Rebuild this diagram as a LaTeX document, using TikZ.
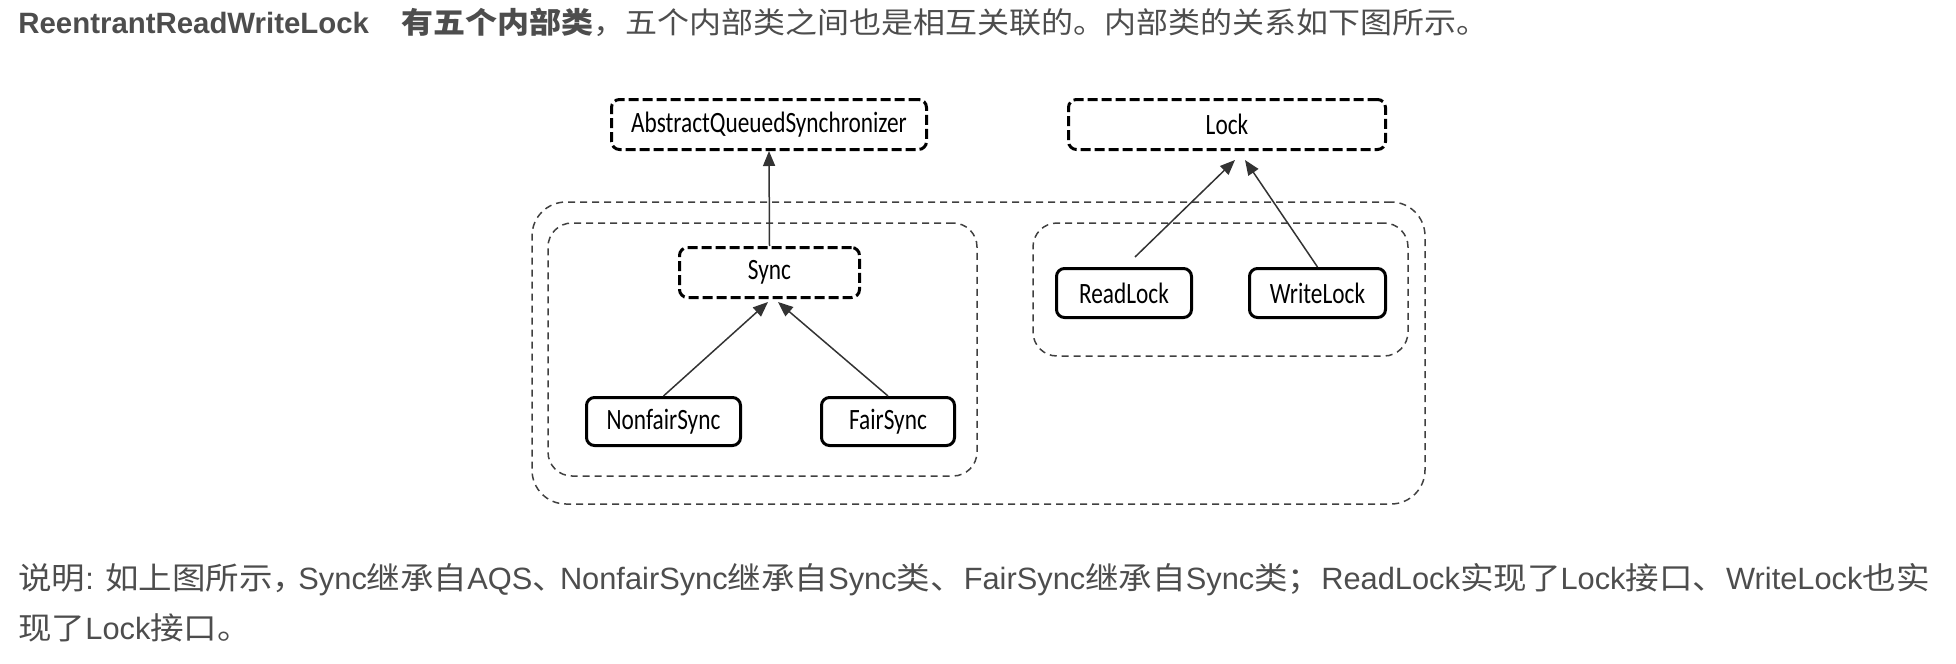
\documentclass[tikz,border=0pt]{standalone}
\usepackage{fontspec}
\setmainfont{Liberation Sans}
\newfontfamily\cjk[FakeStretch=1.088]{Noto Sans CJK SC}
\newfontfamily\boxfont[FakeStretch=0.79]{Carlito}
\usetikzlibrary{arrows.meta}
\definecolor{txt}{HTML}{4D4D4D}
\begin{document}
\begin{tikzpicture}[x=0.5pt,y=-0.5pt,
  cls/.style={draw=black, rounded corners=4pt, line width=1.5pt, minimum height=25pt, inner sep=0pt,
    font=\boxfont\fontsize{14.75pt}{16pt}\selectfont},
  absbox/.style={cls, dash pattern=on 5pt off 2pt},
  grp/.style={draw=black!75, line width=0.75pt, dash pattern=on 3.5pt off 2.5pt, inner sep=0pt},
  arr/.style={draw=black!80, line width=0.75pt, -{Triangle[length=7.5pt,width=6pt]}},
  para/.style={anchor=base west, inner sep=0pt, text=txt},
  headfont/.style={font=\fontsize{14.7pt}{17pt}\selectfont},
  footfont/.style={font=\fontsize{15.4pt}{18pt}\selectfont}]
\useasboundingbox (0,0) rectangle (1956,664);

% text
\node[para, headfont] (head) at (18,33) {\textbf{ReentrantReadWriteLock\hspace{12pt} {\cjk 有五个内部类}}{\cjk ，五个内部类之间也是相互关联的。内部类的关系如下图所示。}};
\node[para, footfont] (foot1) at (18,589) {{\cjk 说明}: {\cjk 如上图所示，}\hspace{-4pt}Sync{\cjk 继承自}AQS{\cjk 、}\hspace{-3pt}NonfairSync{\cjk 继承自}Sync{\cjk 类、}FairSync{\cjk 继承自}Sync{\cjk 类；}ReadLock{\cjk 实现了}Lock{\cjk 接口、}WriteLock{\cjk 也实}};
\node[para, footfont] (foot2) at (18,639) {{\cjk 现了}Lock{\cjk 接口。}};

% groups
\node[grp, rounded corners=17pt, minimum width=446.5pt, minimum height=151pt] (outer) at (978.5,353) {};
\node[grp, rounded corners=12pt, minimum width=214.5pt, minimum height=126.5pt] (left) at (762.5,349.5) {};
\node[grp, rounded corners=12pt, minimum width=187.5pt, minimum height=66.5pt] (right) at (1220.5,289.5) {};

% classes
\node[absbox, minimum width=157.5pt] (aqs) at (769,124.5) {AbstractQueuedSynchronizer};
\node[absbox, minimum width=158.5pt] (lock) at (1227,124.5) {Lock};
\node[absbox, minimum width=90pt] (sync) at (769.5,272.5) {Sync};
\node[cls, minimum width=77pt, minimum height=24pt] (nfs) at (663.5,421.5) {NonfairSync};
\node[cls, minimum width=66.5pt, minimum height=24pt] (fs) at (888,421.5) {FairSync};
\node[cls, minimum width=67.5pt, minimum height=24.5pt] (rl) at (1124,293) {ReadLock};
\node[cls, minimum width=68pt, minimum height=24.5pt] (wl) at (1317.5,293) {WriteLock};

% arrows
\draw[arr] (sync.north) -- (aqs.south);
\draw[arr] (nfs.north) -- ([xshift=-0.75pt,yshift=-1.5pt]sync.south);
\draw[arr] (fs.north) -- ([xshift=4.25pt,yshift=-1.5pt]sync.south);
\draw[arr] ([xshift=5.5pt,yshift=5pt]rl.north) -- ([xshift=4pt,yshift=-4.5pt]lock.south);
\draw[arr] (wl.north) -- ([xshift=9pt,yshift=-4.5pt]lock.south);
\end{tikzpicture}
\end{document}
